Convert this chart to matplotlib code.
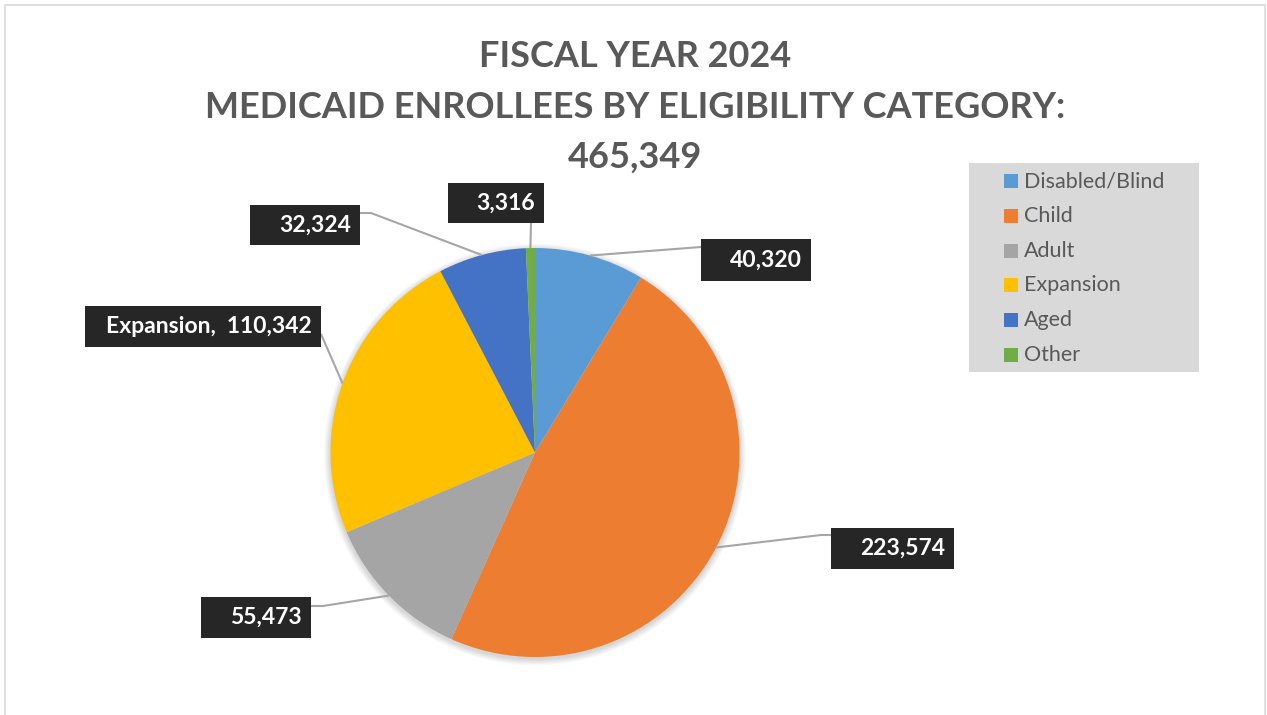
import matplotlib.pyplot as plt
from matplotlib.patches import Rectangle, Circle
import numpy as np

plt.rcParams['font.family'] = ['Lato', 'DejaVu Sans']

# data
categories = ['Disabled/Blind', 'Child', 'Adult', 'Expansion', 'Aged', 'Other']
enrollees = [40320, 223574, 55473, 110342, 32324, 3316]
colors = ['#5B9BD5', '#ED7D31', '#A5A5A5', '#FFC000', '#4472C4', '#70AD47']
title_lines = ['FISCAL YEAR 2024', 'MEDICAID ENROLLEES BY ELIGIBILITY CATEGORY:', '465,349']

W, H = 1267, 715
fig = plt.figure(figsize=(W / 100, H / 100), dpi=100)
ax = fig.add_axes([0, 0, 1, 1])

def Y(py):
    # pixel row (from top) -> data y
    return H - py

cx, cy, r = 535, Y(452.5), 204.5

# soft shadow round the pie
for i in range(8):
    ax.add_patch(Circle((cx, cy - 2), r + 0.8 * (i + 1), color='black', alpha=0.018, lw=0, zorder=1))

wedges, _ = ax.pie(enrollees, colors=colors, startangle=90, counterclock=False,
                   center=(cx, cy), radius=r, wedgeprops=dict(linewidth=0, zorder=2))

# label boxes: left, top, right, bottom (px) and where the leader leaves the box
boxes = [(701, 239, 811, 281), (831, 528, 954, 569), (201, 597, 311, 638),
         (85, 306, 321, 347), (250, 205, 360, 245), (448, 183, 544, 223)]
leader_start = [[(701, 247)], [(831, 535), (821, 535)], [(311, 606), (323, 606)],
                [(321, 334)], [(360, 213), (371, 213)], [(531, 223)]]

for w, val, name, box, pts in zip(wedges, enrollees, categories, boxes, leader_start):
    mid = np.deg2rad((w.theta1 + w.theta2) / 2)
    ex, ey = cx + r * np.cos(mid), cy + r * np.sin(mid)
    xs = [p[0] for p in pts] + [ex]
    ys = [Y(p[1]) for p in pts] + [ey]
    ax.plot(xs, ys, color='#A6A6A6', lw=1.5, zorder=3, solid_capstyle='butt')
    l, t, rr, b = box
    ax.add_patch(Rectangle((l, Y(b)), rr - l, b - t, facecolor='#262626', edgecolor='none', zorder=4))
    txt = f'{val:,}'
    if name == 'Expansion':
        txt = f'{name},  {val:,}'
    ax.text(rr - 9, Y((t + b) / 2), txt, color='white', fontsize=16.5, fontweight='bold',
            ha='right', va='center', zorder=5)

# title
for line, base in zip(title_lines, [67, 118, 168]):
    ax.text(635, Y(base), line, color='#595959', fontsize=26, fontweight='bold',
            ha='center', va='baseline')

# legend
ax.add_patch(Rectangle((969, Y(372)), 230, 209, facecolor='#D9D9D9', edgecolor='none'))
for i, (name, c) in enumerate(zip(categories, colors)):
    top = 174 + i * 34.8
    ax.add_patch(Rectangle((1004, Y(top + 14)), 14, 14, facecolor=c, edgecolor='none'))
    ax.text(1024, Y(top + 7), name, color='#595959', fontsize=15.5, ha='left', va='center')

# chart border
ax.add_patch(Rectangle((4.5, -10), 1260, Y(5) + 10, facecolor='none', edgecolor='#D9D9D9', lw=1.2))

ax.set_xlim(0, W)
ax.set_ylim(0, H)
ax.set_aspect('auto')
ax.axis('off')

fig.savefig('out.png', dpi=100, facecolor='white')
